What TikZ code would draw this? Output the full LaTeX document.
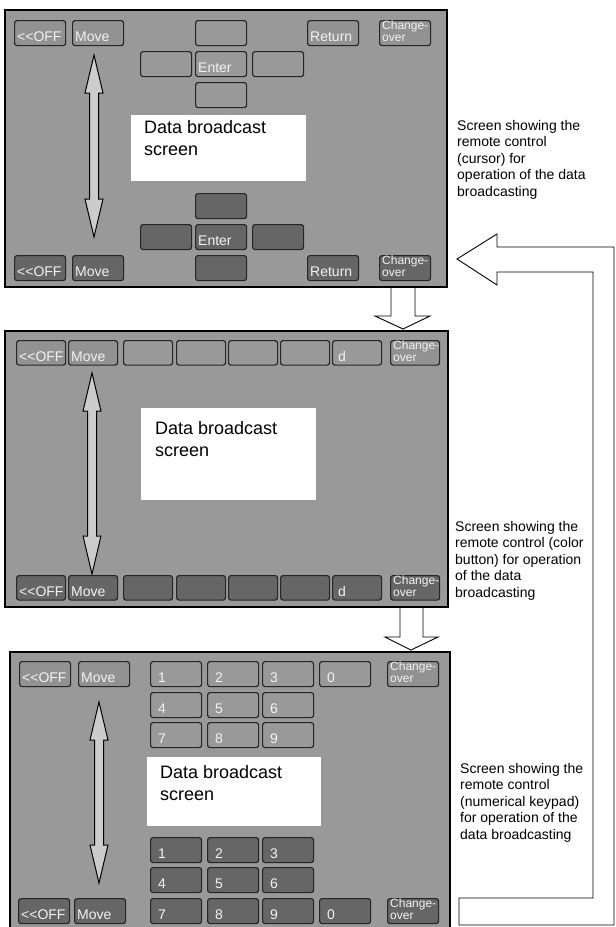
\documentclass[tikz,border=0pt]{standalone}
\usepackage{fontspec}
\setmainfont{Liberation Sans}
\usetikzlibrary{positioning}
\definecolor{mscreen}{RGB}{153,153,153}
\definecolor{mkeydark}{RGB}{102,102,102}
\definecolor{mkeylite}{RGB}{146,146,146}
\definecolor{mshaft}{RGB}{204,204,204}
\definecolor{mtext}{RGB}{242,242,242}
\tikzset{screen/.style = {draw, line width=2pt, fill=mscreen},
         key/.style = {draw=black!85, line width=1.2pt, rounded corners=2.5pt,
                       inner sep=0pt, minimum width=51pt, minimum height=25pt,
                       anchor=north west},
         keylabel/.style = {anchor=base west, inner sep=0pt, text=mtext,
                            font=\fontsize{14}{14}\selectfont},
         desc/.style = {anchor=north west, align=left, inner sep=0pt,
                        font=\fontsize{14}{16.5}\selectfont},
         bigtext/.style = {anchor=north west, align=left, inner sep=0pt,
                           font=\fontsize{18}{22}\selectfont},
         blockarrow/.style = {draw, line width=0.9pt, fill=white}}
\newcommand{\offtext}{{<}{<}OFF}
% key with its label: [indent]{name}{x}{y}{fill}{text}
\newcommand{\remotekey}[6][3]{%
  \node [key, fill=#5] (#2) at (#3, #4) {};
  \node [keylabel, xshift=#1pt, yshift=4.5pt] (#2-t) at (#2.south west) {#6};}
\newcommand{\changekey}[4]{%
  \node [key, fill=#4] (#1) at (#2, #3) {};
  \node [keylabel, anchor=north west, align=left, xshift=3pt, yshift=-0.5pt,
         font=\fontsize{12}{12.5}\selectfont] (#1-t) at (#1.north west) {Change-\\over};}
% up/down arrow: {x}{top tip}{bottom tip}
\newcommand{\movearrow}[3]{%
  \draw [fill=mshaft, line width=1pt] (#1, #2) -- (#1+9, #2+38) -- (#1+4.5, #2+38)
     -- (#1+4.5, #3-38) -- (#1+9, #3-38) -- (#1, #3) -- (#1-9, #3-38)
     -- (#1-4.5, #3-38) -- (#1-4.5, #2+38) -- (#1-9, #2+38) -- cycle;}

\begin{document}
\begin{tikzpicture}[x=1pt, y=-1pt]
  \useasboundingbox (0, 0) rectangle (616, 927);

  % cursor screen
  \draw [screen] (5, 10) rectangle (447, 287);
  \draw [fill=white, draw=none] (131, 115) rectangle (306, 181);
  \node [bigtext] (w1) at (144, 120) {Data broadcast\\screen};
  \movearrow{94}{55}{237}
  \remotekey{off1t}{14}{20}{mkeylite}{\offtext}
  \remotekey{move1t}{72}{20}{mkeylite}{Move}
  \remotekey{up1t}{195}{20}{mscreen}{}
  \remotekey{left1t}{140}{51}{mscreen}{}
  \remotekey{enter1t}{195}{51}{mscreen}{Enter}
  \remotekey{right1t}{252}{51}{mscreen}{}
  \remotekey{down1t}{195}{82}{mscreen}{}
  \remotekey{ret1t}{307}{20}{mkeylite}{Return}
  \changekey{chg1t}{379}{20}{mkeylite}
  \remotekey{up1b}{195}{193}{mkeydark}{}
  \remotekey{left1b}{140}{224}{mkeydark}{}
  \remotekey{enter1b}{195}{224}{mkeydark}{Enter}
  \remotekey{right1b}{252}{224}{mkeydark}{}
  \remotekey{down1b}{195}{255}{mkeydark}{}
  \remotekey{off1b}{14}{255}{mkeydark}{\offtext}
  \remotekey{move1b}{72}{255}{mkeydark}{Move}
  \remotekey{ret1b}{307}{255}{mkeydark}{Return}
  \changekey{chg1b}{379}{255}{mkeydark}
  \node [desc] (d1) at (457, 120) {Screen showing the\\remote control\\(cursor) for\\operation of the data\\broadcasting};

  % color button screen
  \draw [blockarrow] (391, 288) -- (391, 316) -- (375, 316) -- (403, 329)
     -- (430, 316) -- (415, 316) -- (415, 288);
  \draw [screen] (5, 331) rectangle (448, 607);
  \draw [fill=white, draw=none] (141, 408) rectangle (316, 500);
  \node [bigtext] (w2) at (155, 421) {Data broadcast\\screen};
  \movearrow{92}{373}{574}
  \begin{scope}[key/.append style={minimum width=49pt, minimum height=24.5pt}]
    \foreach \k/\x/\f in {off/16/mkeylite, move/68/mkeylite, b1/123/mscreen,
                          b2/176/mscreen, b3/228/mscreen, b4/280/mscreen}
      \remotekey{\k2t}{\x}{340}{\f}{};
    \foreach \k/\x in {off/16, move/68, b1/123, b2/176, b3/228, b4/280}
      \remotekey{\k2b}{\x}{575}{mkeydark}{};
    \remotekey[6]{d2t}{332}{340}{mscreen}{d}
    \remotekey[6]{d2b}{332}{575}{mkeydark}{d}
    \changekey{chg2t}{390}{340}{mkeylite}
    \changekey{chg2b}{390}{575}{mkeydark}
  \end{scope}
  \node [keylabel, xshift=3pt, yshift=4.5pt] (off2t-l) at (off2t.south west) {\offtext};
  \node [keylabel, xshift=3pt, yshift=4.5pt] (move2t-l) at (move2t.south west) {Move};
  \node [keylabel, xshift=3pt, yshift=4.5pt] (off2b-l) at (off2b.south west) {\offtext};
  \node [keylabel, xshift=3pt, yshift=4.5pt] (move2b-l) at (move2b.south west) {Move};
  \node [desc] (d2) at (455, 521) {Screen showing the\\remote control (color\\button) for operation\\of the data\\broadcasting};

  % numerical keypad screen
  \draw [blockarrow] (400, 608) -- (400, 637) -- (385, 637) -- (411, 650)
     -- (438, 637) -- (423, 637) -- (423, 608);
  \draw [screen] (10, 652) rectangle (450, 945);
  \draw [fill=white, draw=none] (147, 757) rectangle (321, 826);
  \node [bigtext] (w3) at (160, 765) {Data broadcast\\screen};
  \movearrow{99}{702}{883}
  \remotekey{off3t}{19}{661}{mkeylite}{\offtext}
  \remotekey{move3t}{78}{661}{mkeylite}{Move}
  \foreach \n/\x/\y in {1/150/661, 2/207/661, 3/262/661, 0/319/661,
                        4/150/692, 5/207/692, 6/262/692,
                        7/150/722, 8/207/722, 9/262/722}
    \remotekey[8]{n\n3t}{\x}{\y}{mscreen}{\n};
  \changekey{chg3t}{387}{661}{mkeylite}
  \foreach \n/\x/\y in {1/150/837, 2/207/837, 3/262/837,
                        4/150/867, 5/207/867, 6/262/867,
                        7/150/898, 8/207/898, 9/262/898, 0/319/898}
    \remotekey[8]{n\n3b}{\x}{\y}{mkeydark}{\n};
  \remotekey{off3b}{18}{898}{mkeydark}{\offtext}
  \remotekey{move3b}{74}{898}{mkeydark}{Move}
  \changekey{chg3b}{387}{898}{mkeydark}
  \node [desc] (d3) at (460, 763) {Screen showing the\\remote control\\(numerical keypad)\\for operation of the\\data broadcasting};

  % back to the cursor screen
  \draw [blockarrow] (457, 259) -- (497, 234) -- (497, 247) -- (614, 247)
     -- (614, 925) -- (459, 925) -- (459, 898) -- (593, 898) -- (593, 272)
     -- (497, 272) -- (497, 285) -- cycle;
\end{tikzpicture}
\end{document}
